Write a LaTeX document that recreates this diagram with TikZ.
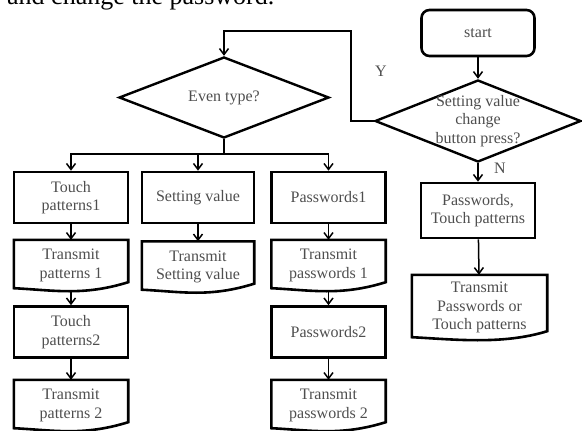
\documentclass[tikz,border=0pt]{standalone}
\usepackage{fontspec}
\setmainfont{Liberation Serif}
\usetikzlibrary{positioning, calc, arrows.meta, shapes.geometric}
\usepackage{xcolor}
\definecolor{inkgray}{RGB}{78,78,78}

\begin{document}
\begin{tikzpicture}[x=1pt, y=-1pt,
    font=\fontsize{16}{18.5}\selectfont,
    proc/.style={draw, line width=2.6pt, minimum width=114pt, minimum height=51pt, inner sep=1pt, align=center, text=inkgray},
    doc/.style={minimum width=114pt, minimum height=51pt, inner sep=1pt, align=center, text=inkgray},
    docline/.style={draw, line width=2.6pt},
    decide/.style={draw, diamond, line width=2.4pt, inner sep=0pt},
    term/.style={draw, rounded corners=8pt, line width=2.6pt, minimum width=113pt, minimum height=46pt, text=inkgray},
    lbl/.style={text=inkgray, align=center},
    arr/.style={-{Straight Barb[length=6pt, width=9pt]}, line width=1.5pt}
]
\useasboundingbox (0,0) rectangle (582,431);
\clip (0,0) rectangle (582,431);

% ============ line of text above the chart ============
\node[anchor=base west, inner sep=0pt, font=\fontsize{26}{30}\selectfont] (head) at (7,5) {and change the password.};

% ============ RIGHT BRANCH: start and check ============
\node[term] (start) at (478,33) {start};
\node[decide, minimum width=206pt, minimum height=82pt] (chg) at (478,121) {};
\node[lbl] (chgtxt) at (478,121) {Setting value\\change\\button press?};
\node[proc, minimum height=55pt] (pt) at (478,210.5) {Passwords,\\Touch patterns};
\node[doc, minimum width=135pt, minimum height=65pt] (tpt) at (479.5,307.5) {Transmit\\Passwords or\\Touch patterns};

\node[lbl] (ylbl) at (381,71) {Y};
\node[lbl] (nlbl) at (500,168) {N};

% ============ LEFT BRANCH: event type ============
\node[decide, minimum width=210pt, minimum height=81pt] (even) at (224,97.5) {};
\node[lbl] (eventxt) at (224,97.5) {Even type?};

% Touch patterns column
\node[proc] (tp1) at (71,197.5)  {Touch\\patterns1};
\node[doc]  (tx1) at (71,265.5)  {Transmit\\patterns 1};
\node[proc] (tp2) at (71,332)    {Touch\\patterns2};
\node[doc]  (tx2) at (71,405.5)  {Transmit\\patterns 2};

% Setting value column
\node[proc, minimum width=112pt] (sv)  at (198,197.5) {Setting value};
\node[doc, minimum width=112pt]  (txs) at (198,267)   {Transmit\\Setting value};

% Passwords column
\node[proc] (pw1)  at (328.5,197.5) {Passwords1};
\node[doc]  (txp1) at (328.5,265.5) {Transmit\\passwords 1};
\node[proc] (pw2)  at (328.5,332)   {Passwords2};
\node[doc]  (txp2) at (328.5,405.5) {Transmit\\passwords 2};

% Document outlines (wavy bottom)
\foreach \n in {tx1, tx2, txs, txp1, txp2, tpt} {
  \draw[docline] ([yshift=3pt]\n.south west) -- (\n.north west) -- (\n.north east)
    -- ([yshift=9pt]\n.south east) .. controls +(-45pt,-14pt) and +(40pt,-2pt) .. ([yshift=3pt]\n.south west) -- cycle;
}

% Connectors
\coordinate (loopR) at (351,31);
\coordinate (bus) at (224,154);
\draw[arr] (start) -- (chg);
\draw[arr] (chg.west) -| (loopR) -| (even.north);
\draw[arr] (chg.south) -- (pt.north);
\draw[arr] (pt) -- (tpt);

\draw[line width=1.5pt] (even.south) -- (bus);
\draw[arr] (bus) -| (tp1.north);
\draw[arr] (bus) -| (sv.north);
\draw[arr] (bus) -| (pw1.north);

\draw[arr] (tp1) -- (tx1); \draw[arr] (tx1) -- (tp2); \draw[arr] (tp2) -- (tx2);
\draw[arr] (sv) -- (txs);
\draw[arr] (pw1) -- (txp1); \draw[arr] (txp1) -- (pw2); \draw[arr] (pw2) -- (txp2);

\end{tikzpicture}
\end{document}
